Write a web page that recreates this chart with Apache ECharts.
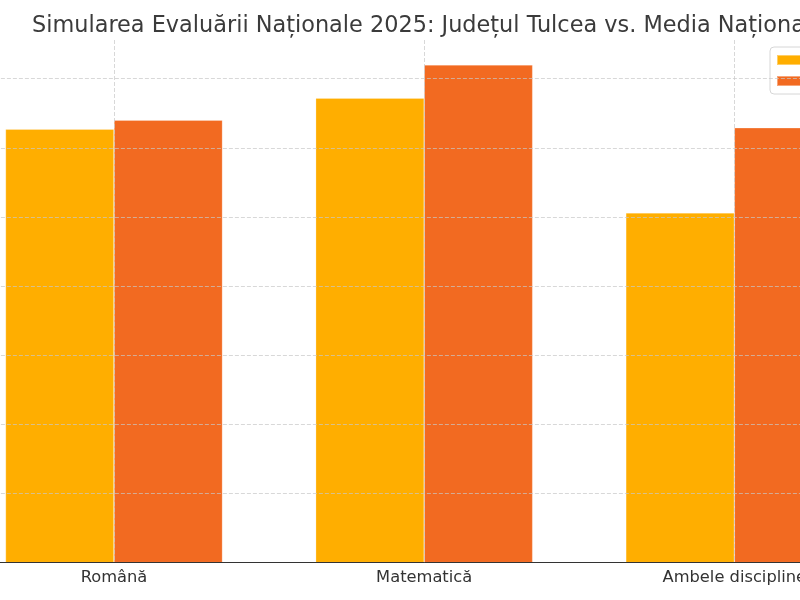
<!DOCTYPE html>
<html>
<head>
<meta charset="utf-8">
<script src="https://cdn.jsdelivr.net/npm/echarts@6/dist/echarts.min.js"></script>
<style>
  html, body { margin: 0; padding: 0; overflow: hidden; background: #fff; }
  #chart { position: absolute; left: -100px; top: 0; width: 1000px; height: 600px; }
</style>
</head>
<body>
<div id="chart"></div>
<script>
// date
const categories = ['Română', 'Matematică', 'Ambele discipline'];
const tulcea = [62.7, 67.2, 50.6];
const nationala = [64.0, 72.0, 62.9];
const seriesNames = ['Județul Tulcea', 'Media Națională'];
// axa ajutatoare pentru liniile verticale din centrul categoriilor
const halfSteps = ['', categories[0], '', categories[1], '', categories[2], ''];

const gridDash = { color: 'rgba(200,200,200,0.7)', type: [4, 2], width: 1 };

let myChart = echarts.init(document.getElementById('chart'));
var option = {
  animation: false,
  color: ['#FFAE00', '#F26A21'],
  title: {
    text: 'Simularea Evaluării Naționale 2025: Județul Tulcea vs. Media Națională',
    left: 127,
    top: 10,
    textStyle: { fontFamily: 'DejaVu Sans', fontSize: 22.4, fontWeight: 'normal', color: '#3b3b3b' }
  },
  legend: {
    data: seriesNames,
    orient: 'vertical',
    left: 870,
    top: 47,
    padding: [6, 6],
    itemWidth: 28,
    itemHeight: 10,
    itemGap: 7,
    borderColor: '#d6d6d6',
    borderWidth: 1,
    borderRadius: 4,
    backgroundColor: 'rgba(255,255,255,0.8)',
    icon: 'rect',
    textStyle: { fontFamily: 'DejaVu Sans', fontSize: 14, color: '#333' }
  },
  grid: {
    left: 58.9,
    width: 930.5,
    top: 40,
    bottom: 37.3,
    containLabel: false
  },
  xAxis: [
    {
      type: 'category',
      data: categories,
      z: 5,
      axisLine: { lineStyle: { color: '#333', width: 1 } },
      axisTick: { alignWithLabel: true, length: 4, lineStyle: { color: '#333' } },
      axisLabel: { fontFamily: 'DejaVu Sans', fontSize: 16.3, color: '#333', margin: 7 },
      splitLine: { show: false }
    },
    {
      type: 'category',
      data: halfSteps,
      boundaryGap: false,
      position: 'bottom',
      z: 4,
      axisLine: { show: false },
      axisTick: { show: false },
      axisLabel: { show: false },
      splitLine: {
        show: true,
        interval: (i) => i % 2 === 1,
        lineStyle: gridDash
      }
    }
  ],
  yAxis: {
    type: 'value',
    min: 0,
    max: 75.6,
    interval: 10,
    z: 5,
    axisLine: { show: false },
    axisTick: { show: false },
    axisLabel: { show: false },
    splitLine: { show: true, showMaxLine: false, lineStyle: gridDash }
  },
  series: [
    {
      name: seriesNames[0],
      type: 'bar',
      barWidth: 108.5,
      barGap: '0%',
      itemStyle: { borderColor: 'rgba(255,255,255,0.4)', borderWidth: 0.6 },
      data: tulcea
    },
    {
      name: seriesNames[1],
      type: 'bar',
      barWidth: 108.5,
      barGap: '0%',
      itemStyle: { borderColor: 'rgba(255,255,255,0.4)', borderWidth: 0.6 },
      data: nationala
    }
  ]
};
myChart.setOption(option);
</script>
</body>
</html>
